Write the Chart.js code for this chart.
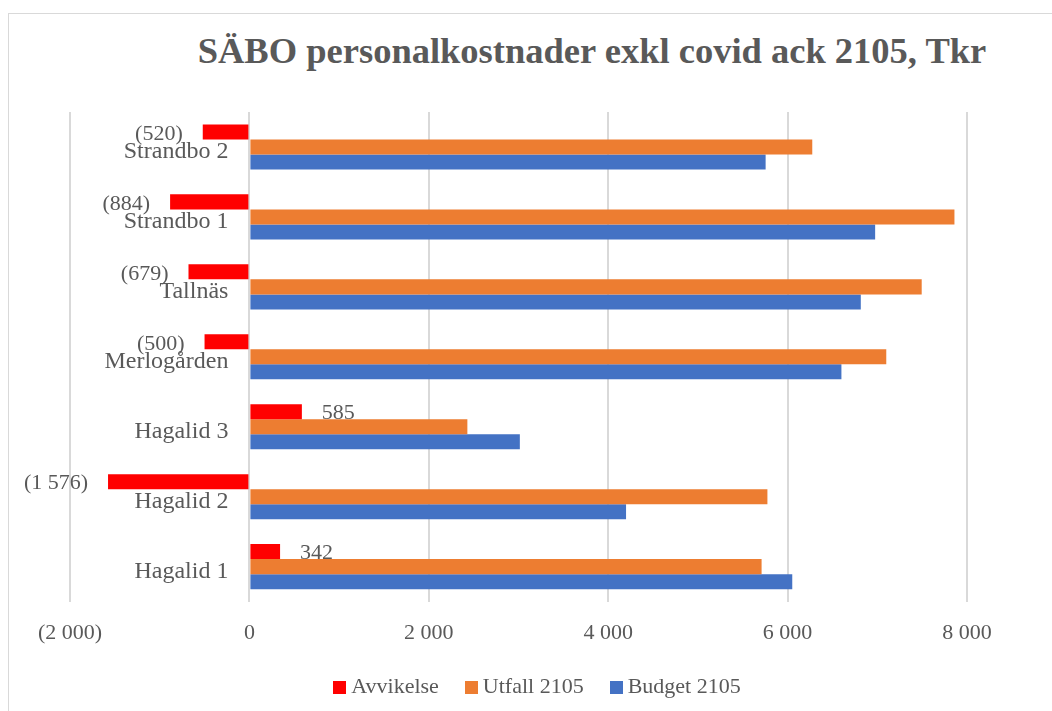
<!DOCTYPE html>
<html>
<head>
<meta charset="utf-8">
<script src="https://cdn.jsdelivr.net/npm/chart.js@4"></script>
<style>
  body { margin: 0; background: #fff; overflow: hidden; width: 1052px; height: 711px; position: relative; }
  #frame { position: absolute; left: 8px; top: 13px; width: 1100px; height: 800px; border: 1.5px solid #d9d9d9; }
  #title { position: absolute; left: 0; top: 29px; width: 1184px; text-align: center; font: bold 36.5px "Liberation Serif", serif; color: #595959; }
  #legend { position: absolute; left: 0; top: 673px; width: 1074px; text-align: center; font: 22px "Liberation Serif", serif; color: #595959; }
  #legend span.item { margin: 0 13px; }
  #legend span.box { display: inline-block; width: 13px; height: 13px; margin-right: 5px; vertical-align: -1px; }
  #wrap { position: absolute; left: 0; top: 0; width: 1052px; height: 711px; }
</style>
</head>
<body>
<div id="frame"></div>
<div id="title">SÄBO personalkostnader exkl covid ack 2105, Tkr</div>
<div id="wrap"><canvas id="myChart"></canvas></div>
<div id="legend"></div>
<script>
let categories = ["Strandbo 2", "Strandbo 1", "Tallnäs", "Merlogården", "Hagalid 3", "Hagalid 2", "Hagalid 1"];
let avvikelse = [-520, -884, -679, -500, 585, -1576, 342];
let utfall = [6275, 7860, 7495, 7100, 2430, 5775, 5710];
let budget = [5755, 6976, 6816, 6600, 3015, 4199, 6052];
let seriesNames = ["Avvikelse", "Utfall 2105", "Budget 2105"];
let seriesColors = ["#ff0000", "#ed7d31", "#4472c4"];

let fmt = function (v) {
    let s = Math.abs(v).toString().replace(/\B(?=(\d{3})+(?!\d))/g, " ");
    return v < 0 ? "(" + s + ")" : s;
}

const textColor = "#595959";
const serif = "'Liberation Serif', serif";

// category names sit just left of the zero line, bar values outside the red bars
let labelPlugin = {
    id: "labels",
    afterDatasetsDraw: function (chart) {
        const ctx = chart.ctx;
        const xScale = chart.scales.x;
        const yScale = chart.scales.y;
        const zeroX = xScale.getPixelForValue(0);
        ctx.save();
        ctx.fillStyle = textColor;
        ctx.textBaseline = "middle";
        ctx.textAlign = "right";
        ctx.font = "24px " + serif;
        categories.forEach(function (c, i) {
            ctx.fillText(c, zeroX - 21, yScale.getPixelForValue(i) + 5);
        });
        ctx.font = "22px " + serif;
        chart.getDatasetMeta(0).data.forEach(function (bar, i) {
            let v = avvikelse[i];
            if (v < 0) {
                ctx.textAlign = "right";
                ctx.fillText(fmt(v), bar.x - 20, bar.y + 2);
            } else {
                ctx.textAlign = "left";
                ctx.fillText(fmt(v), bar.x + 20, bar.y + 2);
            }
        });
        ctx.restore();
    }
}

const ctx = document.getElementById('myChart').getContext('2d');
var myChart = new Chart(ctx, {
    type: 'bar',
    data: {
        labels: categories,
        datasets: [
            { label: seriesNames[0], data: avvikelse, backgroundColor: seriesColors[0] },
            { label: seriesNames[1], data: utfall, backgroundColor: seriesColors[1] },
            { label: seriesNames[2], data: budget, backgroundColor: seriesColors[2] }
        ]
    },
    options: {
        indexAxis: 'y',
        responsive: true,
        maintainAspectRatio: false,
        animation: false,
        datasets: {
            bar: { categoryPercentage: 0.645, barPercentage: 1 }
        },
        layout: {
            padding: { top: 112, bottom: 47, left: 70, right: 85 }
        },
        plugins: {
            legend: { display: false },
            title: { display: false },
            tooltip: { enabled: false }
        },
        scales: {
            x: {
                min: -2000,
                max: 8000,
                ticks: {
                    stepSize: 2000,
                    padding: 18,
                    color: textColor,
                    font: { family: serif, size: 22 },
                    callback: function (v) { return fmt(v); }
                },
                grid: { color: "#d9d9d9", lineWidth: 2, drawTicks: false },
                border: { display: false }
            },
            y: {
                display: false
            }
        }
    },
    plugins: [labelPlugin]
});

let legend = document.getElementById("legend");
seriesNames.forEach(function (name, i) {
    legend.innerHTML += '<span class="item"><span class="box" style="background:' + seriesColors[i] + '"></span>' + name + '</span>';
});
</script>
</body>
</html>
